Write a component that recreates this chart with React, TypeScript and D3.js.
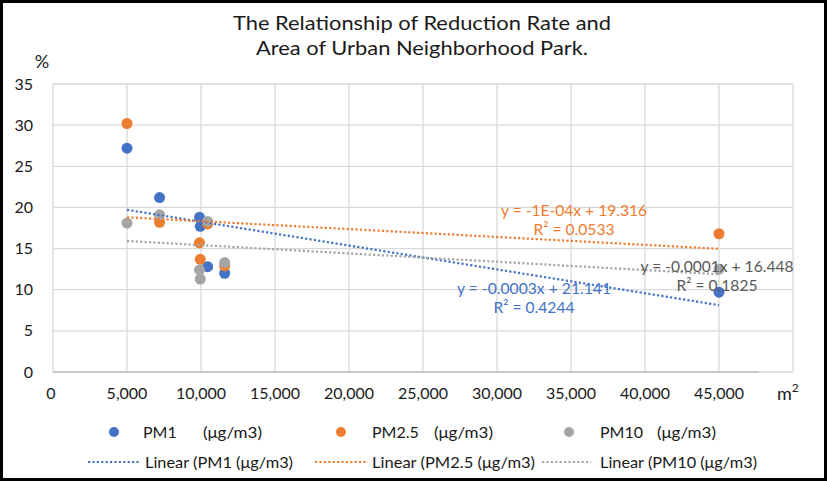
import React from "react";
import * as d3 from "d3";

// ---- data ----
const titleLines = ["The Relationship of Reduction Rate and", "Area of Urban Neighborhood Park."];
const areaValues = [5000, 7200, 9900, 9950, 10450, 11600, 45000];
const pm1Values = [27.2, 21.2, 18.8, 17.7, 12.8, 12.0, 9.7];
const pm25Values = [30.2, 18.2, 15.7, 13.7, 18.0, 12.9, 16.8];
const pm10Values = [18.1, 19.1, 12.4, 11.3, 18.3, 13.3, 12.5];
const seriesNames = ["PM1", "PM2.5", "PM10"];
const unitLabel = "(μg/m3)";
const trendNames = ["Linear (PM1 (μg/m3)", "Linear (PM2.5 (μg/m3)", "Linear (PM10 (μg/m3)"];
const equationTexts = ["y = -0.0003x + 21.141", "y = -1E-04x + 19.316", "y = -0.0001x + 16.448"];
const rSquaredTexts = ["R² = 0.4244", "R² = 0.0533", "R² = 0.1825"];
const xTicks = [0, 5000, 10000, 15000, 20000, 25000, 30000, 35000, 40000, 45000];
const yTicks = [0, 5, 10, 15, 20, 25, 30, 35];
const xDomain = [0, 50000];
const yDomain = [0, 35];

// ---- styles ----
const colors = ["#4472C4", "#ED7D31", "#A5A5A5"];
const labelColors = ["#4472C4", "#ED7D31", "#595959"];
const FONT = "Lato, 'Noto Sans', sans-serif";
const W = 827;
const H = 481;

function regression(xs: number[], ys: number[]) {
  const mx = d3.mean(xs) as number;
  const my = d3.mean(ys) as number;
  const sxy = d3.sum(xs, (x, i) => (x - mx) * (ys[i] - my));
  const sxx = d3.sum(xs, (x) => (x - mx) * (x - mx));
  const slope = sxy / sxx;
  return { slope, intercept: my - slope * mx };
}

export default function App() {
  const x = d3.scaleLinear().domain(xDomain).range([53, 793]);
  const y = d3.scaleLinear().domain(yDomain).range([372, 84]);
  const series = [pm1Values, pm25Values, pm10Values];
  const [xMin, xMax] = d3.extent(areaValues) as [number, number];
  const fmt = d3.format(",");

  // label layout (pixel positions)
  const eqPos = [
    { cx: 534, y1: 288, y2: 307, w1: 154, w2: 81 },
    { cx: 574, y1: 210, y2: 229, w1: 146, w2: 81 },
    { cx: 717, y1: 266, y2: 285, w1: 153, w2: 81 },
  ];
  const legendRow1 = [
    { dot: 114, name: 143, unit: 203 },
    { dot: 341, name: 372, unit: 434 },
    { dot: 569, name: 600, unit: 657 },
  ];
  const legendRow2 = [
    { l0: 88, l1: 139, t: 145, w: 148 },
    { l0: 315, l1: 368, t: 372, w: 163 },
    { l0: 542, l1: 591, t: 600, w: 157 },
  ];

  const line = d3
    .line<number[]>()
    .x((d) => d[0])
    .y((d) => d[1]);

  return (
    <svg
      width={W}
      height={H}
      style={{ position: "absolute", left: 0, top: 0, background: "#fff" }}
      fontFamily={FONT}
    >
      <rect x={0} y={0} width={W} height={H} fill="#fff" />
      {/* title */}
      {titleLines.map((t, i) => (
        <text
          key={t}
          x={422}
          y={30 + i * 25}
          textAnchor="middle"
          fontSize={20}
          fill="#1a1a1a"
          textLength={i === 0 ? 378 : 332}
          lengthAdjust="spacingAndGlyphs"
        >
          {t}
        </text>
      ))}
      {/* gridlines */}
      {[...xTicks, xDomain[1]].map((v) => (
        <line key={"gx" + v} x1={x(v)} x2={x(v)} y1={y(yDomain[0])} y2={y(yDomain[1])} stroke="#D9D9D9" strokeWidth={1.3} />
      ))}
      {yTicks.map((v) => (
        <line key={"gy" + v} x1={x(xDomain[0])} x2={x(xDomain[1])} y1={y(v)} y2={y(v)} stroke="#D9D9D9" strokeWidth={1.3} />
      ))}
      <line x1={x(0)} x2={x(47700)} y1={y(0)} y2={y(0)} stroke="#BFBFBF" strokeWidth={1.3} />
      {/* tick labels */}
      {yTicks.map((v) => (
        <text key={"ty" + v} x={33} y={y(v)} dy="0.35em" textAnchor="end" fontSize={16} fill="#1a1a1a">
          {v}
        </text>
      ))}
      {xTicks.map((v) => (
        <text key={"tx" + v} x={x(v) - (v === 0 ? 2 : 0)} y={393} dy="0.35em" textAnchor="middle" fontSize={16} fill="#1a1a1a">
          {fmt(v)}
        </text>
      ))}
      <text x={42} y={62} dy="0.35em" textAnchor="middle" fontSize={18} fill="#1a1a1a">%</text>
      <text x={777} y={400} fontSize={18} fill="#1a1a1a">
        m<tspan fontSize={12} dy={-8}>2</tspan>
      </text>
      {/* points */}
      {series.map((vals, si) =>
        vals.map((v, i) => (
          <circle key={"p" + si + "-" + i} cx={x(areaValues[i])} cy={y(v)} r={5.5} fill={colors[si]} />
        ))
      )}
      {/* trendlines */}
      {series.map((vals, si) => {
        const r = regression(areaValues, vals);
        const pts = [xMin, xMax].map((a) => [x(a), y(r.slope * a + r.intercept)]);
        return (
          <path
            key={"t" + si}
            d={line(pts) || ""}
            stroke={colors[si]}
            strokeWidth={2.2}
            strokeDasharray="2.2 2.2"
            fill="none"
          />
        );
      })}
      {/* equation labels */}
      {eqPos.map((p, si) => (
        <g key={"eq" + si} fill={labelColors[si]} fontSize={16}>
          <text x={p.cx} y={p.y1} dy="0.35em" textAnchor="middle" textLength={p.w1} lengthAdjust="spacingAndGlyphs">
            {equationTexts[si]}
          </text>
          <text x={p.cx} y={p.y2} dy="0.35em" textAnchor="middle" textLength={p.w2} lengthAdjust="spacingAndGlyphs">
            {rSquaredTexts[si]}
          </text>
        </g>
      ))}
      {/* legend */}
      {seriesNames.map((n, si) => (
        <g key={"lg" + si} fontSize={16} fill="#1a1a1a">
          <circle cx={legendRow1[si].dot} cy={432} r={5} fill={colors[si]} />
          <text x={legendRow1[si].name} y={432} dy="0.35em">{n}</text>
          <text x={legendRow1[si].unit} y={432} dy="0.35em" textLength={59} lengthAdjust="spacingAndGlyphs">{unitLabel}</text>
          <line
            x1={legendRow2[si].l0}
            x2={legendRow2[si].l1}
            y1={462}
            y2={462}
            stroke={colors[si]}
            strokeWidth={2.2}
            strokeDasharray="2.2 2.2"
          />
          <text x={legendRow2[si].t} y={462} dy="0.35em" textLength={legendRow2[si].w} lengthAdjust="spacingAndGlyphs">
            {trendNames[si]}
          </text>
        </g>
      ))}
      {/* frame */}
      <rect x={1.5} y={1.5} width={W - 3} height={H - 3} fill="none" stroke="#000" strokeWidth={3} />
    </svg>
  );
}
